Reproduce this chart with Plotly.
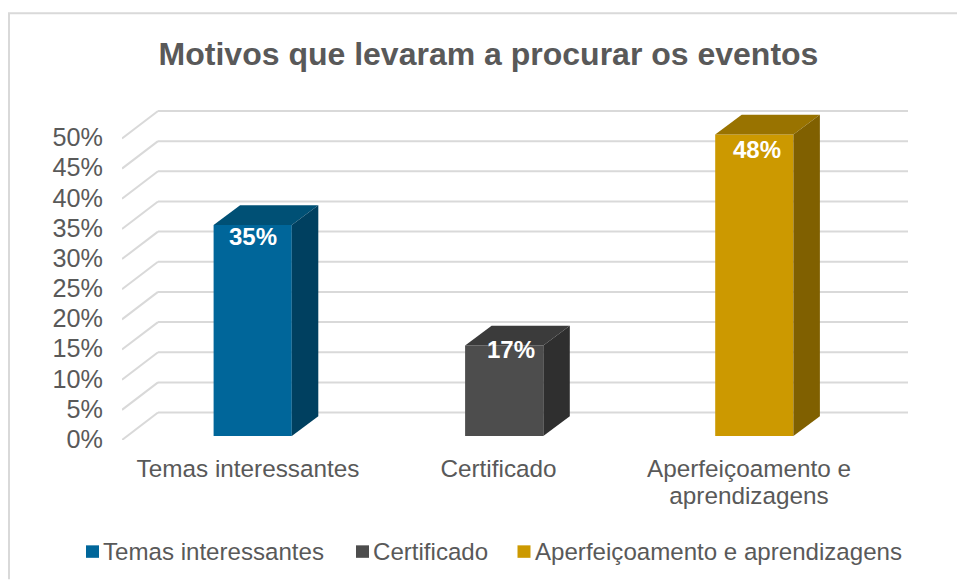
import plotly.graph_objects as go

# ---- data ----
categories = ["Temas interessantes", "Certificado", "Aperfeiçoamento e aprendizagens"]
axis_lines = [["Temas interessantes"], ["Certificado"], ["Aperfeiçoamento e", "aprendizagens"]]
bar_heights = [35, 15, 50]            # drawn height of each column against the axis
bar_labels = ["35%", "17%", "48%"]    # labels printed on the columns
y_ticks = [0, 5, 10, 15, 20, 25, 30, 35, 40, 45, 50]
y_tick_labels = ["0%", "5%", "10%", "15%", "20%", "25%", "30%", "35%", "40%", "45%", "50%"]
front_colors = ["#00669A", "#4D4D4D", "#CC9900"]
top_colors = ["#005075", "#3B3B3B", "#997300"]
side_colors = ["#004060", "#2F2F2F", "#806000"]
title_text = "Motivos que levaram a procurar os eventos"

# ---- pixel frame of the plot and the oblique projection ----
W, H = 957, 580
L, R, T, B = 122, 908, 110, 440.5
PX_PER_PCT = 6.04
PX_PER_CAT = 250.5
X0 = (248 - L) / PX_PER_CAT
x_range = [-X0, (R - L) / PX_PER_CAT - X0]
y_range = [0, (B - T) / PX_PER_PCT]


def dx(px):
    return px / PX_PER_CAT


def dy(px):
    return px / PX_PER_PCT


def paper_x(px):
    return (px - L) / (R - L)


def paper_y(px):
    return (B - px) / (B - T)


WALL_DX, WALL_DY = dx(36), dy(27.5)     # front plane -> back wall
BAR_W = dx(78.2)
BAR_DX, BAR_DY = dx(26.5), dy(19.7)     # column depth
BAR_BASE = dy(4)                        # column base above the front plane
BAR_OFFSETS = [dx(4.7), dx(5.7), dx(5.3)]
LABEL_SHIFT_X = [dx(5), dx(12.5), dx(8)]
LABEL_DROP_Y = [dy(14.5), dy(6.7), dy(17.7)]

fig = go.Figure()

# front faces
for i, cat in enumerate(categories):
    fig.add_trace(go.Bar(
        x=[i], y=[bar_heights[i]], base=BAR_BASE, width=BAR_W,
        offset=BAR_OFFSETS[i] - BAR_W / 2,
        marker=dict(color=front_colors[i], line=dict(width=0)),
        name=cat, showlegend=False, hoverinfo="skip",
    ))

# top and side faces
for i in range(3):
    x1 = i + BAR_OFFSETS[i] - BAR_W / 2
    x2 = x1 + BAR_W
    y0 = BAR_BASE
    y1 = BAR_BASE + bar_heights[i]
    fig.add_trace(go.Scatter(
        x=[x1, x2, x2 + BAR_DX, x1 + BAR_DX, x1],
        y=[y1, y1, y1 + BAR_DY, y1 + BAR_DY, y1],
        fill="toself", fillcolor=top_colors[i], mode="lines", line=dict(width=0),
        showlegend=False, hoverinfo="skip"))
    fig.add_trace(go.Scatter(
        x=[x2, x2 + BAR_DX, x2 + BAR_DX, x2, x2],
        y=[y0, y0 + BAR_DY, y1 + BAR_DY, y1, y0],
        fill="toself", fillcolor=side_colors[i], mode="lines", line=dict(width=0),
        showlegend=False, hoverinfo="skip"))

# data labels
fig.add_trace(go.Scatter(
    x=[i + LABEL_SHIFT_X[i] for i in range(3)],
    y=[BAR_BASE + bar_heights[i] - LABEL_DROP_Y[i] for i in range(3)],
    text=bar_labels, mode="text", textposition="middle center",
    textfont=dict(family="Liberation Sans", size=24, color="white", weight="bold"),
    showlegend=False, hoverinfo="skip"))

# wall gridlines (side diagonal + back wall)
shapes = []
gx0 = x_range[0]
for t in y_ticks:
    line = dict(color="#D9D9D9", width=2)
    shapes.append(dict(type="line", xref="x", yref="y", layer="below",
                       x0=gx0, y0=t, x1=gx0 + WALL_DX, y1=t + WALL_DY, line=line))
    shapes.append(dict(type="line", xref="x", yref="y", layer="below",
                       x0=gx0 + WALL_DX, y0=t + WALL_DY, x1=x_range[1], y1=t + WALL_DY, line=line))

# chart frame (left and top edges are visible, the rest runs off the page)
frame = dict(color="#D9D9D9", width=2)
shapes.append(dict(type="line", xref="paper", yref="paper", x0=paper_x(9), x1=paper_x(9),
                   y0=paper_y(H), y1=paper_y(13), line=frame))
shapes.append(dict(type="line", xref="paper", yref="paper", x0=paper_x(8), x1=paper_x(W),
                   y0=paper_y(13), y1=paper_y(13), line=frame))

# legend: swatches and text
legend_swatch_px = [86, 356, 517.5]
annotations = []
for i, cat in enumerate(categories):
    sx = legend_swatch_px[i]
    shapes.append(dict(type="rect", xref="paper", yref="paper", line=dict(width=0),
                       fillcolor=front_colors[i],
                       x0=paper_x(sx), x1=paper_x(sx + 13),
                       y0=paper_y(558.5), y1=paper_y(546)))
    annotations.append(dict(xref="paper", yref="paper", xanchor="left", yanchor="middle",
                            x=paper_x(sx + 15), y=paper_y(552),
                            text=cat, showarrow=False,
                            font=dict(family="Liberation Sans", size=24.1, color="#595959")))

# category labels: smaller base size keeps the 28 px line spacing of the original
axis_labels = ['<span style="font-size:24.3px">' + '</span><br><span style="font-size:24.3px">'.join(lines) + "</span>"
               for lines in axis_lines]

fig.update_layout(
    width=W, height=H,
    margin=dict(l=L, r=W - R, t=T, b=H - B, autoexpand=False),
    paper_bgcolor="white", plot_bgcolor="white",
    showlegend=False, barmode="overlay",
    title=dict(text=title_text, x=488.5 / W, xanchor="center", y=1 - 54 / H, yanchor="middle",
               font=dict(family="Liberation Sans", size=32, color="#595959", weight="bold")),
    xaxis=dict(range=x_range, tickvals=[0, 1, 2], ticktext=axis_labels, showgrid=False,
               zeroline=False, showline=False, ticks="", ticklabelstandoff=14,
               tickfont=dict(family="Liberation Sans", size=21.5, color="#595959")),
    yaxis=dict(range=y_range, tickvals=y_ticks, ticktext=y_tick_labels, showgrid=False,
               zeroline=False, showline=False, ticks="", ticklabelstandoff=18,
               ticklabelshift=-1,
               tickfont=dict(family="Liberation Sans", size=25.2, color="#595959")),
    shapes=shapes, annotations=annotations,
)

fig.write_html("out.html", config={"displayModeBar": False},
               post_script="document.body.style.margin='0';")
